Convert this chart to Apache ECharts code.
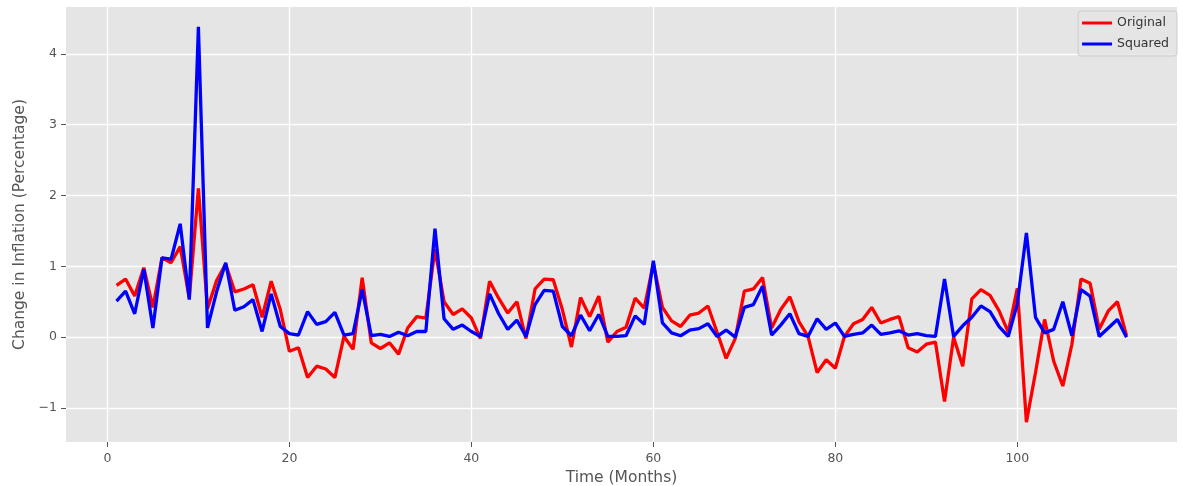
<!DOCTYPE html>
<html><head><meta charset="utf-8">
<script src="https://cdn.jsdelivr.net/npm/echarts@6/dist/echarts.min.js"></script>
<style>html,body{margin:0;padding:0;background:#fff}#c{width:1183px;height:486px}</style>
</head><body><div id="c"></div>
<script>
// Time (Months) 1..112
const months = Array.from({length: 112}, (_, i) => i + 1);

const original = [
  0.73, 0.82, 0.58, 0.98, 0.42, 1.12, 1.05, 1.28, 0.55, 2.10,
  0.40, 0.80, 1.03, 0.64, 0.68, 0.74, 0.28, 0.79, 0.39, -0.20,
  -0.15, -0.57, -0.41, -0.45, -0.57, 0.01, -0.17, 0.84, -0.08, -0.16,
  -0.08, -0.24, 0.13, 0.29, 0.27, 1.24, 0.50, 0.32, 0.40, 0.27,
  -0.02, 0.79, 0.55, 0.34, 0.50, -0.02, 0.68, 0.82, 0.81, 0.39,
  -0.14, 0.56, 0.29, 0.58, -0.07, 0.08, 0.14, 0.55, 0.41, 1.04,
  0.42, 0.23, 0.15, 0.31, 0.34, 0.44, 0.07, -0.30, -0.02, 0.65,
  0.68, 0.84, 0.13, 0.39, 0.57, 0.22, 0.01, -0.50, -0.32, -0.44,
  0.01, 0.19, 0.25, 0.42, 0.20, 0.25, 0.29, -0.15, -0.21, -0.10,
  -0.07, -0.91, 0.00, -0.41, 0.54, 0.67, 0.59, 0.37, 0.07, 0.69,
  -1.20, -0.50, 0.25, -0.34, -0.69, -0.10, 0.82, 0.76, 0.11, 0.37,
  0.50, 0.02
];

const squared = [
  0.51, 0.65, 0.33, 0.96, 0.13, 1.12, 1.10, 1.60, 0.53, 4.38,
  0.13, 0.64, 1.05, 0.38, 0.43, 0.53, 0.08, 0.61, 0.15, 0.05,
  0.03, 0.36, 0.18, 0.22, 0.35, 0.03, 0.05, 0.67, 0.02, 0.04,
  0.01, 0.07, 0.02, 0.08, 0.08, 1.53, 0.26, 0.11, 0.17, 0.08,
  0.01, 0.61, 0.33, 0.11, 0.24, 0.01, 0.46, 0.66, 0.65, 0.15,
  0.02, 0.31, 0.09, 0.32, 0.01, 0.01, 0.02, 0.30, 0.18, 1.08,
  0.20, 0.06, 0.02, 0.10, 0.12, 0.19, 0.01, 0.10, 0.00, 0.42,
  0.46, 0.72, 0.03, 0.17, 0.33, 0.05, 0.01, 0.26, 0.11, 0.20,
  0.01, 0.04, 0.06, 0.17, 0.04, 0.06, 0.09, 0.03, 0.05, 0.02,
  0.01, 0.82, 0.01, 0.16, 0.28, 0.44, 0.36, 0.15, 0.01, 0.47,
  1.47, 0.28, 0.06, 0.11, 0.50, 0.02, 0.67, 0.58, 0.01, 0.13,
  0.25, 0.00
];

const xTicks = [0, 20, 40, 60, 80, 100];
const yTicks = [-1, 0, 1, 2, 3, 4];

const pairs = (ys) => months.map((m, i) => [m, ys[i]]);

const chart = echarts.init(document.getElementById('c'), null, {renderer: 'canvas'});
const font = 'DejaVu Sans';
chart.setOption({
  animation: false,
  backgroundColor: '#FFFFFF',
  grid: {left: 66, right: 6, top: 7, bottom: 44, show: true, backgroundColor: '#E5E5E5', borderWidth: 0,
         containLabel: false, outerBoundsMode: 'none'},
  legend: {
    right: 6, top: 11,
    orient: 'vertical',
    icon: 'rect', itemWidth: 30, itemHeight: 3, itemGap: 5,
    backgroundColor: 'rgba(229,229,229,0.8)', borderColor: '#CCCCCC', borderWidth: 1, borderRadius: 3,
    padding: [4, 8, 4, 4],
    textStyle: {fontFamily: font, fontSize: 12.5, color: '#333333', lineHeight: 16},
    data: ['Original', 'Squared']
  },
  xAxis: {
    type: 'value', min: -4.55, max: 117.55,
    name: 'Time (Months)', nameLocation: 'middle', nameGap: 28,
    nameTextStyle: {fontFamily: font, fontSize: 15.5, color: '#555555'},
    axisLine: {show: false, onZero: false},
    axisTick: {show: true, length: 5, customValues: xTicks, lineStyle: {color: '#555555', width: 1}},
    axisLabel: {customValues: xTicks, fontFamily: font, fontSize: 12.5, color: '#555555', margin: 10},
    splitLine: {show: true, lineStyle: {color: '#FFFFFF', width: 1.3}}
  },
  yAxis: {
    type: 'value', min: -1.48, max: 4.66,
    name: 'Change in Inflation (Percentage)', nameLocation: 'middle', nameGap: 38,
    nameTextStyle: {fontFamily: font, fontSize: 15.5, color: '#555555'},
    axisLine: {show: false, onZero: false},
    axisTick: {show: true, length: 5, customValues: yTicks, lineStyle: {color: '#555555', width: 1}},
    axisLabel: {customValues: yTicks, fontFamily: font, fontSize: 12.5, color: '#555555', margin: 9,
      formatter: v => (v < 0 ? '\u2212' + Math.abs(v) : String(v))},
    splitLine: {show: true, lineStyle: {color: '#FFFFFF', width: 1.3}}
  },
  series: [
    {name: 'Original', type: 'line', data: pairs(original), showSymbol: false, symbol: 'none',
     lineStyle: {color: '#FF0000', width: 3.3}, itemStyle: {color: '#FF0000'}},
    {name: 'Squared', type: 'line', data: pairs(squared), showSymbol: false, symbol: 'none',
     lineStyle: {color: '#0000FF', width: 3.3}, itemStyle: {color: '#0000FF'}}
  ]
});
</script>
</body></html>
